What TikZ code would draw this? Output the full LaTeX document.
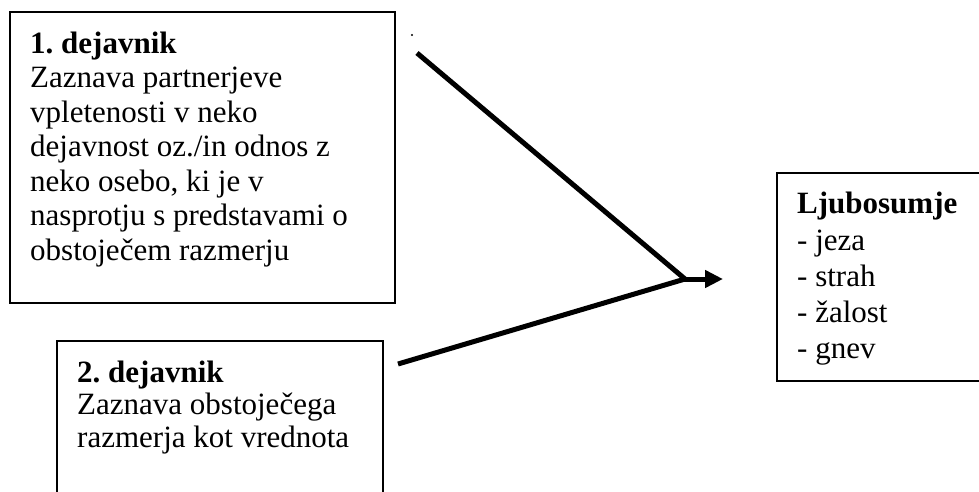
\documentclass[tikz,border=0pt]{standalone}
\usepackage{fontspec}
\setmainfont{Liberation Serif}
\usetikzlibrary{arrows.meta}
\frenchspacing
\begin{document}
\begin{tikzpicture}[x=1pt,y=-1pt,
  frame/.style={draw=black,line width=1.6pt},
  txt/.style={anchor=base west,inner sep=0pt,font=\fontsize{31}{34}\selectfont},
  ttl/.style={txt,font=\fontsize{31}{34}\selectfont\bfseries},
  link/.style={line width=5pt,line cap=butt}]
\useasboundingbox (0,0) rectangle (979,491);
% boxes
\draw[frame] (10,12) rectangle (395,303);
\draw[frame] (57,341) rectangle (383,500);
\draw[frame] (777,173) rectangle (990,381);
% first factor
\node[ttl] (t1) at (30,53) {1. dejavnik};
\node[txt] (l11) at (30,87) {Zaznava partnerjeve};
\node[txt] (l12) at (30,122) {vpletenosti v neko};
\node[txt] (l13) at (30,156) {dejavnost oz./in odnos z};
\node[txt] (l14) at (30,191) {neko osebo, ki je v};
\node[txt] (l15) at (30,225) {nasprotju s predstavami o};
\node[txt] (l16) at (30,260) {obstoječem razmerju};
% second factor
\node[ttl] (t2) at (77,382) {2. dejavnik};
\node[txt] (l21) at (77,414) {Zaznava obstoječega};
\node[txt] (l22) at (77,447) {razmerja kot vrednota};
% outcome
\node[ttl] (t3) at (797,213) {Ljubosumje};
\node[txt] (l31) at (797,250) {- jeza};
\node[txt] (l32) at (797,286) {- strah};
\node[txt] (l33) at (797,322) {- žalost};
\node[txt] (l34) at (797,358) {- gnev};
% connectors
\coordinate (s1) at (417,53);
\coordinate (s2) at (398,364);
\coordinate (j) at (685,279);
\coordinate (e) at (723,279);
\fill (412,35) circle (1.2);
\draw[link] (s1) -- (j);
\draw[link] (s2) -- (j);
\draw[link,-{Triangle[length=18pt,width=17pt]}] ([xshift=-2pt]j) -- (e);
\end{tikzpicture}
\end{document}
